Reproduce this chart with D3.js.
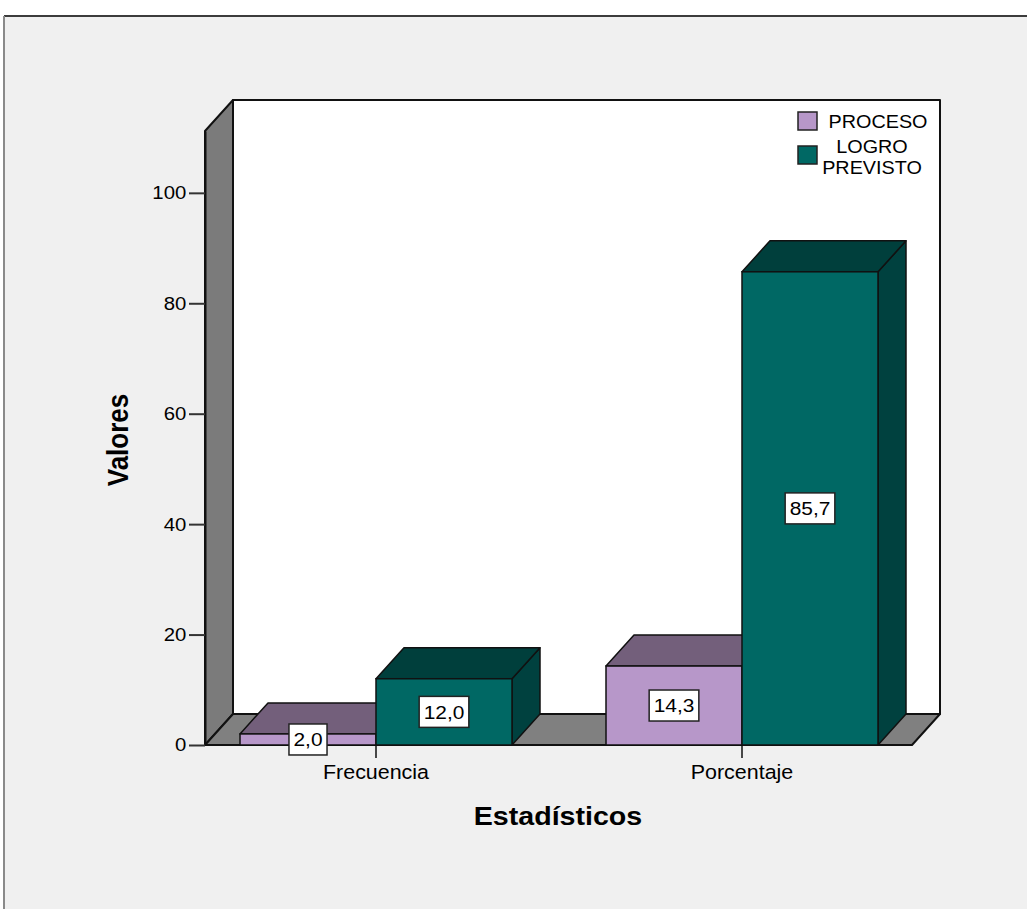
<!DOCTYPE html>
<html>
<head>
    <meta charset="utf-8">
    <title>Estadísticos</title>
    <script src="https://d3js.org/d3.v7.min.js"></script>
    <style>
        body {
            margin: 0;
            background: #ffffff;
        }
        svg text {
            font-family: Arial, "Liberation Sans", sans-serif;
            fill: #000;
        }
    </style>
</head>
<body>
    <div id="chart"></div>
    <script>
        // chart data
        const categories = ["Frecuencia", "Porcentaje"];
        const seriesNames = ["PROCESO", "LOGRO PREVISTO"];
        const proceso = [2.0, 14.3];
        const logro = [12.0, 85.7];
        const yTicks = [0, 20, 40, 60, 80, 100];

        const W = 1027, H = 909;
        const stretch = 1.1; // the original text looks a bit wide

        // front plane of the 3d box
        const plotLeft = 205, plotRight = 912, plotBottom = 745, plotTop = 131;
        const depthX = 28, depthY = 31;

        const colors = {
            "PROCESO": { front: "#b797c9", top: "#735f7b", side: "#5d4b66" },
            "LOGRO PREVISTO": { front: "#006864", top: "#003f3c", side: "#00413f" }
        };

        const svg = d3.select("#chart")
            .append("svg")
            .attr("width", W)
            .attr("height", H);

        // outer panel
        svg.append("rect")
            .attr("x", 4).attr("y", 16)
            .attr("width", W).attr("height", H)
            .attr("fill", "#f0f0f0");
        svg.append("line")
            .attr("x1", 4).attr("x2", W).attr("y1", 16).attr("y2", 16)
            .attr("stroke", "#3c3c3c").attr("stroke-width", 2);
        svg.append("line")
            .attr("x1", 4).attr("x2", 4).attr("y1", 16).attr("y2", H)
            .attr("stroke", "#8a8a8a").attr("stroke-width", 2);

        const y = d3.scaleLinear()
            .domain([0, 111.2])
            .range([plotBottom, plotTop]);

        const x = d3.scalePoint()
            .domain(categories)
            .range([193, 925])
            .padding(0.5);

        const xs = d3.scaleBand()
            .domain(seriesNames)
            .range([-136, 136]);

        const wallStyle = sel => sel
            .attr("stroke", "#111")
            .attr("stroke-width", 2)
            .attr("stroke-linejoin", "round");

        // back wall
        svg.append("rect")
            .attr("x", plotLeft + depthX).attr("y", plotTop - depthY)
            .attr("width", plotRight - plotLeft).attr("height", plotBottom - plotTop)
            .attr("fill", "#ffffff")
            .call(wallStyle);

        // left wall
        svg.append("polygon")
            .attr("points", [
                [plotLeft, plotTop], [plotLeft + depthX, plotTop - depthY],
                [plotLeft + depthX, plotBottom - depthY], [plotLeft, plotBottom]
            ].join(" "))
            .attr("fill", "#7b7b7b")
            .call(wallStyle);

        // floor
        svg.append("polygon")
            .attr("points", [
                [plotLeft, plotBottom], [plotLeft + depthX, plotBottom - depthY],
                [plotRight + depthX, plotBottom - depthY], [plotRight, plotBottom]
            ].join(" "))
            .attr("fill", "#808080")
            .call(wallStyle);

        // y axis
        const yAxis = svg.append("g")
            .attr("transform", `translate(${plotLeft},0)`)
            .call(d3.axisLeft(y).tickValues(yTicks).tickSize(16).tickSizeOuter(0)
                .tickPadding(2).tickFormat(d3.format("d")));
        yAxis.select(".domain").attr("stroke", "#111").attr("stroke-width", 2);
        yAxis.selectAll(".tick line").attr("stroke", "#333").attr("stroke-width", 2);
        yAxis.selectAll(".tick text")
            .style("font-size", "18.5px")
            .attr("x", -17)
            .attr("transform", `scale(${stretch},1)`);

        // bars
        const fmt = v => d3.format(".1f")(v).replace(".", ",");
        const rows = [];
        categories.forEach((c, i) => {
            rows.push({ cat: c, s: "PROCESO", v: proceso[i] });
            rows.push({ cat: c, s: "LOGRO PREVISTO", v: logro[i] });
        });

        const bars = svg.append("g")
            .selectAll("g")
            .data(rows)
            .join("g");

        bars.each(function(d) {
            const g = d3.select(this);
            const x0 = x(d.cat) + xs(d.s);
            const x1 = x0 + xs.bandwidth();
            const yt = y(d.v);
            const col = colors[d.s];
            g.append("polygon")
                .attr("points", [[x1, yt], [x1 + depthX, yt - depthY], [x1 + depthX, plotBottom - depthY], [x1, plotBottom]].join(" "))
                .attr("fill", col.side)
                .attr("stroke", "#111").attr("stroke-width", 1.5).attr("stroke-linejoin", "round");
            g.append("polygon")
                .attr("points", [[x0, yt], [x0 + depthX, yt - depthY], [x1 + depthX, yt - depthY], [x1, yt]].join(" "))
                .attr("fill", col.top)
                .attr("stroke", "#111").attr("stroke-width", 1.5).attr("stroke-linejoin", "round");
            g.append("rect")
                .attr("x", x0).attr("y", yt)
                .attr("width", x1 - x0).attr("height", plotBottom - yt)
                .attr("fill", col.front)
                .attr("stroke", "#111").attr("stroke-width", 1.5);
        });

        // value labels
        bars.each(function(d) {
            const g = d3.select(this);
            const cx = x(d.cat) + xs(d.s) + xs.bandwidth() / 2;
            const cy = (y(d.v) + plotBottom) / 2;
            const box = g.append("rect")
                .attr("fill", "#ffffff")
                .attr("stroke", "#222")
                .attr("stroke-width", 1.5);
            const t = g.append("text")
                .attr("text-anchor", "middle")
                .attr("dy", "0.36em")
                .style("font-size", "19px")
                .attr("transform", `translate(${cx},${cy}) scale(${stretch},1)`)
                .text(fmt(d.v));
            const w = t.node().getComputedTextLength() * stretch + 9;
            box.attr("x", cx - w / 2).attr("y", cy - 15.5)
                .attr("width", w).attr("height", 31);
        });

        // x axis ticks and labels
        const xAxis = svg.append("g");
        xAxis.selectAll("line")
            .data(categories)
            .join("line")
            .attr("x1", d => x(d)).attr("x2", d => x(d))
            .attr("y1", plotBottom).attr("y2", plotBottom + 13)
            .attr("stroke", "#111").attr("stroke-width", 1.5);
        xAxis.selectAll("text")
            .data(categories)
            .join("text")
            .attr("text-anchor", "middle")
            .style("font-size", "19.5px")
            .attr("transform", d => `translate(${x(d)},${plotBottom + 34}) scale(${stretch},1)`)
            .text(d => d);

        // axis titles
        svg.append("text")
            .attr("text-anchor", "middle")
            .style("font-size", "26px")
            .style("font-weight", "bold")
            .attr("transform", `translate(558,825) scale(${stretch},1)`)
            .text("Estadísticos");
        svg.append("text")
            .attr("text-anchor", "middle")
            .style("font-size", "26px")
            .style("font-weight", "bold")
            .attr("transform", `translate(128,440) scale(${stretch},1) rotate(-90)`)
            .text("Valores");

        // legend
        const legend = svg.append("g");
        const legendRows = [
            { s: "PROCESO", y: 112, lines: ["PROCESO"], ty: [128] },
            { s: "LOGRO PREVISTO", y: 146, lines: ["LOGRO", "PREVISTO"], ty: [153, 174] }
        ];
        legendRows.forEach(r => {
            legend.append("rect")
                .attr("x", 798).attr("y", r.y)
                .attr("width", 19).attr("height", 18)
                .attr("fill", colors[r.s].front)
                .attr("stroke", "#222").attr("stroke-width", 1.5);
            r.lines.forEach((ln, i) => {
                legend.append("text")
                    .attr("text-anchor", "middle")
                    .style("font-size", "18px")
                    .attr("transform", `translate(${r.lines.length > 1 ? 872 : 878},${r.ty[i]}) scale(${stretch},1)`)
                    .text(ln);
            });
        });
    </script>
</body>
</html>
